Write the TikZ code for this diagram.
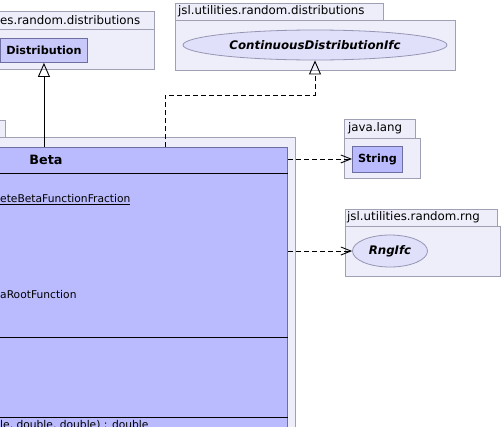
\documentclass[tikz,border=0pt]{standalone}
\usepackage{fontspec}
\setmainfont{DejaVu Sans}
\usetikzlibrary{arrows.meta,shapes.geometric}
\definecolor{pkgfill}{RGB}{238,238,251}
\definecolor{pkgline}{RGB}{160,160,180}
\definecolor{clsfill}{RGB}{186,186,255}
\definecolor{clsfillb}{RGB}{200,200,250}
\definecolor{clsline}{RGB}{110,110,160}
\definecolor{ifcfill}{RGB}{224,224,250}
\definecolor{ifcline}{RGB}{150,150,180}
\tikzset{
  pkgbox/.style={draw=pkgline, fill=pkgfill, line width=0.9pt, inner sep=0pt, anchor=north west},
  pkglabel/.style={anchor=west, inner sep=0pt, font=\fontsize{11.8}{13}\selectfont},
  clsbox/.style={draw=clsline, fill=clsfill, line width=0.9pt, inner sep=0pt, anchor=north west, font=\bfseries\fontsize{11.2}{13}\selectfont},
  ifcbox/.style={ellipse, draw=ifcline, fill=ifcfill, line width=0.8pt, inner sep=0pt, font=\bfseries\itshape\fontsize{11.8}{13}\selectfont},
  member/.style={anchor=west, inner sep=0pt, font=\fontsize{10.7}{13}\selectfont},
  gen/.style={line width=0.9pt, -{Triangle[open, length=14pt, width=12pt]}},
  realiz/.style={line width=0.9pt, dash pattern=on 5pt off 3pt, -{Triangle[open, length=14pt, width=12pt]}},
  dep/.style={line width=0.9pt, dash pattern=on 5pt off 3pt, -{Straight Barb[length=10pt, width=8pt]}},
  sep/.style={line width=1pt, draw=black}
}
\begin{document}
\begin{tikzpicture}[x=1pt, y=-1pt]
\useasboundingbox (0,0) rectangle (502,426);
\clip (0,0) rectangle (502,426);
\fill[white] (0,0) rectangle (502,426);

% package: ...es.random.distributions
\node[pkgbox, minimum width=160pt, minimum height=18pt] (p1tab) at (-6,11) {};
\node[pkgbox, minimum width=160pt, minimum height=40pt] (p1) at (-6,29) {};
\node[pkglabel] (p1lab) at (0,20) {es.random.distributions};
\node[clsbox, fill=clsfillb, minimum width=87pt, minimum height=24pt] (dist) at (0,38) {Distribution};

% package: jsl.utilities.random.distributions
\node[pkgbox, minimum width=208pt, minimum height=17pt] (p2tab) at (175,3) {};
\node[pkgbox, minimum width=280pt, minimum height=50pt] (p2) at (175,20) {};
\node[pkglabel] (p2lab) at (178,11.5) {jsl.utilities.random.distributions};
\node[ifcbox, minimum width=264pt, minimum height=30pt] (cdi) at (315,45) {ContinuousDistributionIfc};

% package of Beta
\node[pkgbox, minimum width=11pt, minimum height=17pt] (p3tab) at (-6,120) {};
\node[pkgbox, minimum width=301pt, minimum height=320pt] (p3) at (-6,137) {};
\node[clsbox, minimum width=293pt, minimum height=310pt, draw=clsline] (beta) at (-6,147) {};
\node[font=\bfseries\fontsize{12.8}{14}\selectfont, inner sep=0pt] (betaname) at (46,160) {Beta};
\coordinate (sepA) at (0,173);
\coordinate (sepB) at (0,337);
\coordinate (sepC) at (0,417);
\draw[sep] (beta.west |- sepA) -- (beta.east |- sepA);
\draw[sep] (beta.west |- sepB) -- (beta.east |- sepB);
\draw[sep] (beta.west |- sepC) -- (beta.east |- sepC);
\node[member] (m1) at (0,200) {\underline{eteBetaFunctionFraction}};
\node[member] (m2) at (0,295) {aRootFunction};
\node[member, anchor=base west] (m3) at (0,428) {le, double, double) : double};

% package: java.lang
\node[pkgbox, minimum width=71pt, minimum height=19pt] (p4tab) at (344,119) {};
\node[pkgbox, minimum width=76pt, minimum height=40pt] (p4) at (344,138) {};
\node[pkglabel] (p4lab) at (348,128.5) {java.lang};
\node[clsbox, minimum width=50pt, minimum height=26pt] (str) at (352,145.5) {String};

% package: jsl.utilities.random.rng
\node[pkgbox, minimum width=152pt, minimum height=17pt] (p5tab) at (345,209) {};
\node[pkgbox, minimum width=155pt, minimum height=50pt] (p5) at (345,226) {};
\node[pkglabel] (p5lab) at (347,217.5) {jsl.utilities.random.rng};
\node[ifcbox, minimum width=75pt, minimum height=32pt] (rng) at (390,251) {RngIfc};

% connectors
\draw[gen] (dist.south |- beta.north) -- (dist.south);
\coordinate (bend) at (165,95);
\draw[realiz] (bend |- beta.north) -- (bend) -| (cdi.south);
\draw[dep] (beta.east |- str.west) -- (str.west);
\draw[dep] (beta.east |- rng.west) -- (rng.west);
\end{tikzpicture}
\end{document}
